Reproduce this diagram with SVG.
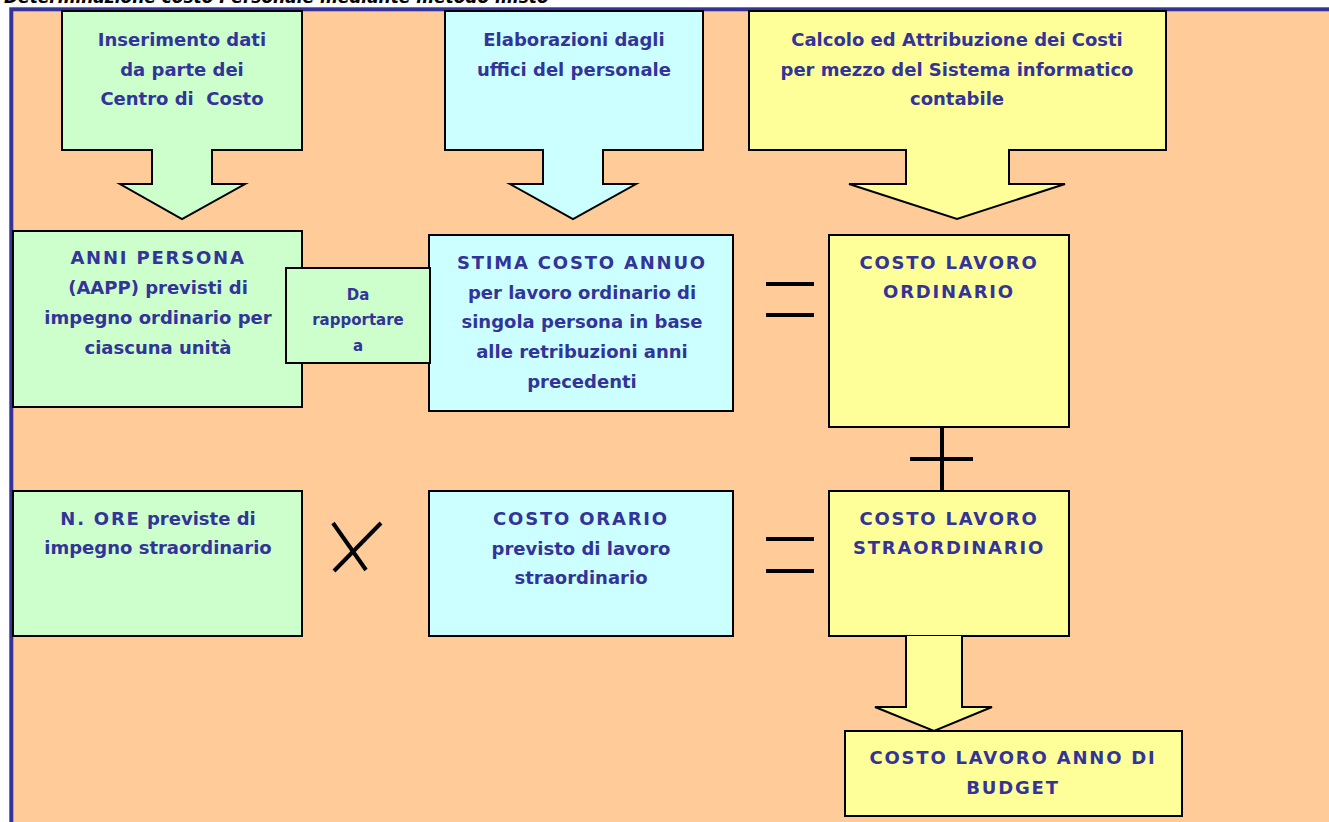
<svg xmlns="http://www.w3.org/2000/svg" width="1329" height="822" viewBox="0 0 1329 822">
<style>
.bx{stroke:#000;stroke-width:2;stroke-linejoin:miter}
.g{fill:#CCFFCC}.c{fill:#CCFFFF}.y{fill:#FFFF99}
text{font-family:"DejaVu Sans","Liberation Sans",sans-serif;font-weight:bold;font-size:18px;fill:#333399;text-anchor:middle}
.caps{letter-spacing:1.8px}
.sm{font-size:15px}
.op{stroke:#000;stroke-width:4;fill:none}
</style>
<rect x="0" y="0" width="1329" height="822" fill="#FFFFFF"/>
<text x="4" y="3" style="font-size:17px;font-style:italic;fill:#000;text-anchor:start;font-weight:bold">Determinazione costo Personale mediante metodo misto</text>
<rect x="11.3" y="9.3" width="1330" height="830" fill="#FFCC99" stroke="#333399" stroke-width="4"/>

<g id="n-inserimento">
<path class="bx g" d="M62,11 H302 V150 H212 V184 H245 L182,219 L120,184 H152 V150 H62 Z"/>
<text x="182" y="46">Inserimento dati</text>
<text x="182" y="76">da parte dei</text>
<text x="182" y="105" style="white-space:pre">Centro di  Costo</text>
</g>

<g id="n-elaborazioni">
<path class="bx c" d="M445,11 H703 V150 H603 V184 H636 L573,219 L510,184 H543 V150 H445 Z"/>
<text x="574" y="46">Elaborazioni dagli</text>
<text x="574" y="76">uffici del personale</text>
</g>

<g id="n-calcolo">
<path class="bx y" d="M749,11 H1166 V150 H1009 V184 H1065 L957,219 L849,184 H906 V150 H749 Z"/>
<text x="957" y="46">Calcolo ed Attribuzione dei Costi</text>
<text x="957" y="76">per mezzo del Sistema informatico</text>
<text x="957" y="105">contabile</text>
</g>

<g id="n-anni">
<rect class="bx g" x="13" y="231" width="289" height="176"/>
<text x="158" y="264"><tspan class="caps">ANNI PERSONA</tspan></text>
<text x="158" y="294">(AAPP) previsti di</text>
<text x="158" y="324">impegno ordinario per</text>
<text x="158" y="354">ciascuna unità</text>
</g>

<g id="n-stima">
<rect class="bx c" x="429" y="235" width="304" height="176"/>
<text x="582" y="269" class="caps">STIMA COSTO ANNUO</text>
<text x="582" y="299">per lavoro ordinario di</text>
<text x="582" y="328">singola persona in base</text>
<text x="582" y="358">alle retribuzioni anni</text>
<text x="582" y="388">precedenti</text>
</g>

<g id="n-rapportare">
<rect class="bx g" x="286" y="268" width="144" height="95"/>
<text x="358" y="300" class="sm">Da</text>
<text x="358" y="325" class="sm">rapportare</text>
<text x="358" y="351" class="sm">a</text>
</g>

<g id="n-ordinario">
<rect class="bx y" x="829" y="235" width="240" height="192"/>
<text x="949" y="269" class="caps">COSTO LAVORO</text>
<text x="949" y="298" class="caps">ORDINARIO</text>
</g>

<g id="n-ore">
<rect class="bx g" x="13" y="491" width="289" height="145"/>
<text x="158" y="525"><tspan class="caps">N. ORE</tspan> previste di</text>
<text x="158" y="554">impegno straordinario</text>
</g>

<g id="n-orario">
<rect class="bx c" x="429" y="491" width="304" height="145"/>
<text x="581" y="525" class="caps">COSTO ORARIO</text>
<text x="581" y="555">previsto di lavoro</text>
<text x="581" y="584">straordinario</text>
</g>

<g id="n-straordinario">
<rect class="bx y" x="829" y="491" width="240" height="145"/>
<text x="949" y="525" class="caps">COSTO LAVORO</text>
<text x="949" y="554" class="caps">STRAORDINARIO</text>
</g>

<g id="n-budget">
<path class="bx y" d="M906,636 V707 H875 L934,731 L992,707 H962 V636"/>
<rect class="bx y" x="845" y="731" width="337" height="85"/>
<text x="1013" y="764" class="caps">COSTO LAVORO ANNO DI</text>
<text x="1013" y="794" class="caps">BUDGET</text>
</g>

<g id="connectors">
<line class="op" x1="766" y1="284" x2="814" y2="284"/>
<line class="op" x1="766" y1="315" x2="814" y2="315"/>
<line class="op" x1="766" y1="539" x2="814" y2="539"/>
<line class="op" x1="766" y1="571" x2="814" y2="571"/>
<line class="op" x1="942" y1="427" x2="942" y2="491"/>
<line class="op" x1="910" y1="459" x2="973" y2="459"/>
<line class="op" x1="333" y1="523" x2="366" y2="570"/>
<line class="op" x1="381" y1="523" x2="334" y2="571"/>
</g>
</svg>
